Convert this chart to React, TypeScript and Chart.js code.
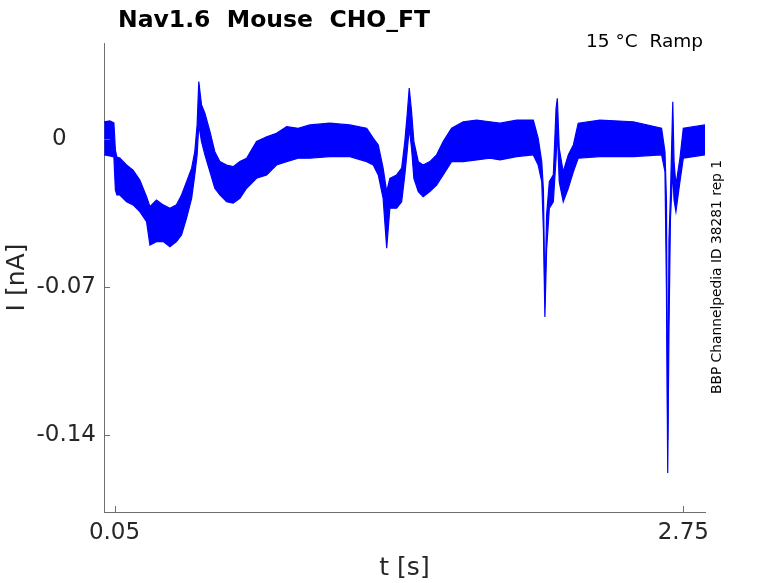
import React, { useEffect, useRef } from 'react';
import { Chart, ChartOptions, Plugin, registerables } from 'chart.js';

Chart.register(...registerables);

// time samples [s] shared by the two envelope traces
const timeS = [
  0.001, 0.028, 0.047, 0.054, 0.061, 0.075, 0.107, 0.138, 0.17, 0.202,
  0.218, 0.249, 0.281, 0.313, 0.344, 0.368, 0.392, 0.416, 0.431, 0.442,
  0.45, 0.463, 0.479, 0.503, 0.526, 0.55, 0.582, 0.613, 0.645, 0.677,
  0.724, 0.772, 0.819, 0.867, 0.922, 0.977, 1.072, 1.167, 1.247, 1.278,
  1.302, 1.325, 1.342, 1.357, 1.389, 1.413, 1.428, 1.439, 1.449, 1.46,
  1.471, 1.492, 1.515, 1.547, 1.579, 1.61, 1.65, 1.705, 1.769, 1.832,
  1.88, 1.959, 2.038, 2.061, 2.078, 2.086, 2.093, 2.101, 2.114, 2.133,
  2.146, 2.152, 2.161, 2.18, 2.204, 2.228, 2.251, 2.354, 2.513, 2.647,
  2.663, 2.67, 2.676, 2.682, 2.689, 2.7, 2.706, 2.715, 2.734, 2.75,
  2.853,
];

// upper edge of the noisy current trace [nA]
const upperNA = [
  0.0083, 0.0088, 0.0078, -0.005, -0.0083, -0.0088, -0.0121, -0.0145, -0.0192, -0.0271,
  -0.0318, -0.0287, -0.031, -0.0326, -0.031, -0.0263, -0.02, -0.0136, -0.0058, 0.0069,
  0.0274, 0.0163, 0.0124, 0.0037, -0.0058, -0.0105, -0.0121, -0.0129, -0.0105, -0.0089,
  -0.001, 0.0013, 0.0029, 0.0061, 0.0053, 0.0069, 0.0077, 0.0069, 0.0053, 0.0006,
  -0.0026, -0.0136, -0.0247, -0.0184, -0.0168, -0.0136, -0.001, 0.0116, 0.0243, 0.0132,
  -0.001, -0.0105, -0.0121, -0.0105, -0.0073, -0.001, 0.0053, 0.0084, 0.0092, 0.0084,
  0.0077, 0.0092, 0.0092, 0.0006, -0.0105, -0.0239, -0.076, -0.0358, -0.02, -0.0168,
  0.0148, 0.0195, -0.0042, -0.0153, -0.0073, -0.0026, 0.0077, 0.0092, 0.0084, 0.0053,
  -0.0058, -0.0287, -0.1424, -0.0476, -0.0263, 0.0179, -0.0105, -0.0216, -0.0089, 0.0053,
  0.0069,
];

// lower edge of the noisy current trace [nA]
const lowerNA = [
  -0.0073, -0.0078, -0.0083, -0.0239, -0.0263, -0.0263, -0.0295, -0.031, -0.0342, -0.0389,
  -0.05, -0.0484, -0.0484, -0.0508, -0.0484, -0.0452, -0.0373, -0.0279, -0.0168, -0.0073,
  0.0069, -0.001, -0.0073, -0.0153, -0.0231, -0.0263, -0.0295, -0.0302, -0.0279, -0.0231,
  -0.0184, -0.0168, -0.0121, -0.0105, -0.0089, -0.0089, -0.0081, -0.0081, -0.0105, -0.0121,
  -0.0168, -0.0279, -0.0515, -0.0326, -0.0326, -0.0295, -0.0168, -0.0058, 0.0053, -0.0042,
  -0.0184, -0.0247, -0.0271, -0.0247, -0.0216, -0.0168, -0.0105, -0.0105, -0.0097, -0.0089,
  -0.0097, -0.0081, -0.0073, -0.0121, -0.02, -0.0429, -0.0841, -0.0524, -0.0326, -0.0295,
  -0.0089, 0.0045, -0.02, -0.0295, -0.0231, -0.0153, -0.0089, -0.0081, -0.0081, -0.0073,
  -0.0153, -0.0713, -0.158, -0.0903, -0.0373, -0.0145, -0.0287, -0.0342, -0.02, -0.0089,
  -0.0073,
];

const xTicks = [0.05, 2.75];
const yTicks = [-0.14, -0.07, 0];
// labels as the original axis shows them (the zero label is left-justified)
const yTickLabels = ['-0.14', '-0.07', '0    '];

const FONT = '"DejaVu Sans", sans-serif';
const TEXT = '#262626';
const AXIS = '#6e6e6e';

// inward tick marks plus the free text around the axes
const decorations: Plugin = {
  id: 'decorations',
  afterDraw(chart) {
    const { ctx, chartArea, scales } = chart;
    ctx.save();
    ctx.strokeStyle = AXIS;
    ctx.lineWidth = 1;
    ctx.beginPath();
    for (const v of yTicks) {
      const y = Math.round(scales.y.getPixelForValue(v)) + 0.5;
      ctx.moveTo(chartArea.left, y);
      ctx.lineTo(chartArea.left + 6, y);
    }
    for (const v of xTicks) {
      const x = Math.round(scales.x.getPixelForValue(v)) + 0.5;
      ctx.moveTo(x, chartArea.bottom);
      ctx.lineTo(x, chartArea.bottom - 6);
    }
    ctx.stroke();

    ctx.fillStyle = '#000';
    ctx.font = `bold 23.5px ${FONT}`;
    ctx.textAlign = 'left';
    ctx.textBaseline = 'alphabetic';
    ctx.fillText('Nav1.6  Mouse  CHO_FT', 118, 27);

    ctx.font = `18.5px ${FONT}`;
    ctx.textAlign = 'right';
    ctx.fillText('15 °C  Ramp', 703, 47);

    ctx.translate(721, 277);
    ctx.rotate(-Math.PI / 2);
    ctx.font = `13.8px ${FONT}`;
    ctx.textAlign = 'center';
    ctx.fillText('BBP Channelpedia ID 38281 rep 1', 0, 0);
    ctx.restore();
  },
};

export default function App() {
  const canvasRef = useRef<HTMLCanvasElement>(null);
  const chartRef = useRef<Chart | null>(null);

  useEffect(() => {
    document.body.style.margin = '0';
    if (!canvasRef.current) return;

    const options: ChartOptions<'line'> = {
      animation: false,
      responsive: true,
      maintainAspectRatio: false,
      layout: { padding: { left: 0, right: 73, top: 43, bottom: 0 } },
      plugins: {
        legend: { display: false },
        tooltip: { enabled: false },
      },
      elements: { point: { radius: 0 }, line: { tension: 0 } },
      scales: {
        x: {
          type: 'linear',
          min: 0,
          max: 2.853,
          afterFit: s => { s.height = 71; },
          afterBuildTicks: s => { s.ticks = xTicks.map(value => ({ value })); },
          grid: { display: false, drawTicks: false },
          border: { display: true, color: AXIS, width: 1 },
          ticks: {
            color: TEXT,
            font: { family: FONT, size: 23 },
            padding: 7,
            maxRotation: 0,
            callback: v => String(v),
          },
          title: {
            display: true,
            text: 't [s]',
            color: TEXT,
            font: { family: FONT, size: 25 },
            padding: 0,
          },
        },
        y: {
          type: 'linear',
          min: -0.1765,
          max: 0.0457,
          afterFit: s => { s.width = 104; },
          afterBuildTicks: s => { s.ticks = yTicks.map(value => ({ value })); },
          grid: { display: false, drawTicks: false },
          border: { display: true, color: AXIS, width: 1 },
          ticks: {
            color: TEXT,
            font: { family: FONT, size: 23 },
            padding: 8,
            callback: (v, i) => yTickLabels[i] ?? String(v),
          },
          title: {
            display: true,
            text: 'I [nA]',
            color: TEXT,
            font: { family: FONT, size: 25 },
            padding: 2,
          },
        },
      },
    };

    chartRef.current = new Chart(canvasRef.current, {
      type: 'line',
      data: {
        datasets: [
          {
            data: timeS.map((t, i) => ({ x: t, y: upperNA[i] })),
            borderColor: '#0000ff',
            backgroundColor: '#0000ff',
            borderWidth: 1.2,
            fill: '+1',
          },
          {
            data: timeS.map((t, i) => ({ x: t, y: lowerNA[i] })),
            borderColor: '#0000ff',
            borderWidth: 1.2,
            fill: false,
          },
        ],
      },
      options,
      plugins: [decorations],
    });

    return () => {
      chartRef.current?.destroy();
      chartRef.current = null;
    };
  }, []);

  return (
    <div style={{ width: 778, height: 583, position: 'relative', background: '#fff' }}>
      <canvas ref={canvasRef} />
    </div>
  );
}
